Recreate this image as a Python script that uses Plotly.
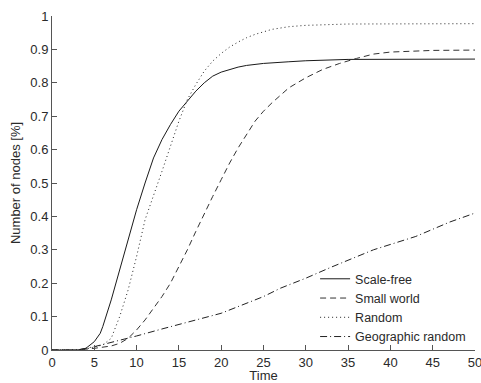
import plotly.graph_objects as go

# Scale-free
sf_t = [0, 3, 4, 4.5, 5, 5.7, 6, 7, 8, 9, 10, 11, 12, 13, 14, 15, 16, 17, 18, 19, 20, 21, 22, 23, 25, 28, 30, 35, 40, 45, 50]
sf_v = [0, 0, 0.005, 0.015, 0.025, 0.05, 0.07, 0.15, 0.24, 0.33, 0.42, 0.50, 0.575, 0.63, 0.675, 0.715, 0.745, 0.775, 0.80, 0.82,
        0.832, 0.84, 0.847, 0.852, 0.858, 0.863, 0.866, 0.87, 0.871, 0.871, 0.871]

# Small world
sw_t = [0, 3, 5, 7, 8, 9, 10, 11, 12, 13, 14, 15, 16, 17, 18, 19, 20, 21, 22, 23, 24, 25, 26, 28, 30, 32, 34, 36, 38, 40, 45, 50]
sw_v = [0, 0, 0.005, 0.012, 0.02, 0.035, 0.06, 0.09, 0.125, 0.16, 0.2, 0.25, 0.30, 0.355, 0.41, 0.46, 0.51, 0.56, 0.605, 0.645,
        0.685, 0.715, 0.74, 0.785, 0.815, 0.84, 0.858, 0.873, 0.886, 0.892, 0.897, 0.898]

# Random
rd_t = [0, 3, 4, 5, 6, 7, 8, 9, 10, 11, 12, 13, 14, 15, 16, 17, 18, 19, 20, 21, 22, 23, 24, 26, 28, 30, 35, 40, 45, 50]
rd_v = [0, 0, 0.003, 0.008, 0.015, 0.035, 0.10, 0.18, 0.28, 0.39, 0.46, 0.535, 0.61, 0.685, 0.75, 0.795, 0.835, 0.865, 0.888, 0.907,
        0.922, 0.935, 0.945, 0.96, 0.968, 0.972, 0.976, 0.977, 0.977, 0.977]

# Geographic random
gr_t = [0, 3, 5, 8, 10, 13, 16, 20, 25, 27, 30, 33, 38, 43, 47, 50]
gr_v = [0, 0, 0.01, 0.028, 0.042, 0.063, 0.083, 0.11, 0.16, 0.185, 0.215, 0.248, 0.30, 0.34, 0.383, 0.41]

x_ticks = [0, 5, 10, 15, 20, 25, 30, 35, 40, 45, 50]
y_ticks = [0, 0.1, 0.2, 0.3, 0.4, 0.5, 0.6, 0.7, 0.8, 0.9, 1]
y_tick_text = ["0", "0.1", "0.2", "0.3", "0.4", "0.5", "0.6", "0.7", "0.8", "0.9", "1"]

series = [
    ("Scale-free", sf_t, sf_v, "solid", "#1a1a1a"),
    ("Small world", sw_t, sw_v, "6px,4px", "#333333"),
    ("Random", rd_t, rd_v, "1px,3px", "#222222"),
    ("Geographic random", gr_t, gr_v, "7px,3px,1px,3px", "#222222"),
]

fig = go.Figure()
for name, t, v, dash, col in series:
    fig.add_trace(go.Scatter(x=t, y=v, mode="lines", name=name,
                             line=dict(color=col, width=1, dash=dash)))

font = "Liberation Sans, Arial, sans-serif"
fig.update_layout(
    width=481, height=383,
    margin=dict(l=52, r=6, t=16, b=33),
    paper_bgcolor="white", plot_bgcolor="white",
    font=dict(family=font, size=13, color="#2a2a2a"),
    showlegend=True,
    legend=dict(x=0.622, y=0.257, xanchor="left", yanchor="top",
                bgcolor="rgba(0,0,0,0)", borderwidth=0,
                font=dict(size=12.5, color="#2a2a2a"), tracegroupgap=0),
    xaxis=dict(range=[0, 50], tickvals=x_ticks, ticks="inside", ticklen=5,
               tickcolor="#555555", showline=True, linecolor="#555555", linewidth=1,
               showgrid=False, zeroline=False, mirror=False, automargin=False,
               ticklabeloverflow="allow",
               title=dict(text="Time", standoff=2, font=dict(size=13))),
    yaxis=dict(range=[0, 1], tickvals=y_ticks, ticktext=y_tick_text, ticks="inside", ticklen=5,
               tickcolor="#555555", showline=True, linecolor="#555555", linewidth=1,
               showgrid=False, zeroline=False, mirror=False, automargin=False,
               ticklabeloverflow="allow",
               title=dict(text="Number of nodes [%]", standoff=6, font=dict(size=13))),
)

fig.write_html("out.html",
               config={"displayModeBar": False},
               post_script="document.body.style.margin='0';document.body.style.overflow='hidden';")
